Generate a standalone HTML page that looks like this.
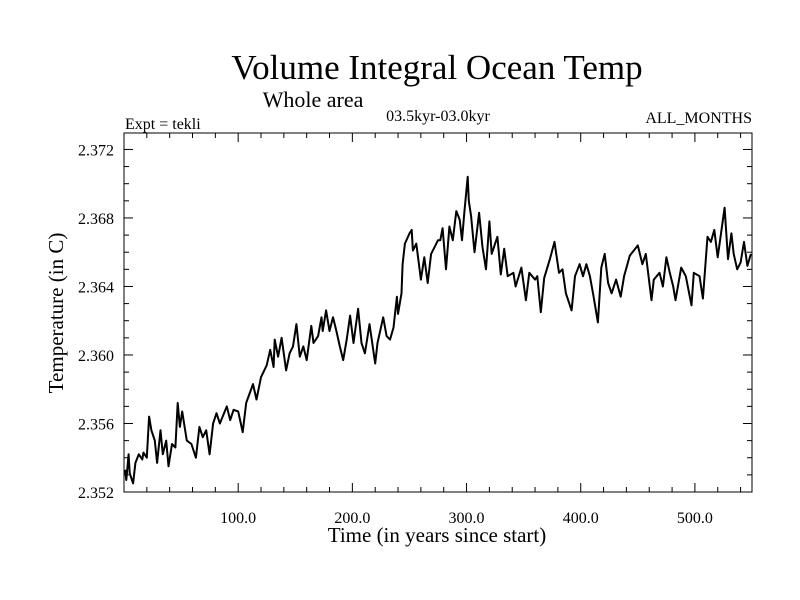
<!DOCTYPE html>
<html><head><meta charset="utf-8"><style>
body{margin:0;background:#fff;}
svg{display:block;font-family:"Liberation Serif",serif;}
</style></head><body>
<svg id="chart" width="800" height="600" viewBox="0 0 800 600" xmlns="http://www.w3.org/2000/svg">
<rect x="0" y="0" width="800" height="600" fill="#fff"/>
<text x="437" y="79" font-size="35" text-anchor="middle">Volume Integral Ocean Temp</text>
<text x="313" y="107" font-size="22" text-anchor="middle">Whole area</text>
<text x="438" y="121" font-size="16" text-anchor="middle">03.5kyr-03.0kyr</text>
<text x="125" y="129" font-size="16">Expt = tekli</text>
<text x="752" y="123" font-size="16" text-anchor="end">ALL_MONTHS</text>
<text x="437" y="542" font-size="21" text-anchor="middle">Time (in years since start)</text>
<text transform="translate(63,313) rotate(-90)" font-size="21" text-anchor="middle">Temperature (in C)</text>
<g id="axes"></g>
<path id="series" fill="none" stroke="#000" stroke-width="2" stroke-linejoin="round"/>
<rect x="124" y="133" width="628" height="359" fill="none" stroke="#000" stroke-width="1"/>
</svg>
<script>
const years = [1,2,4,5,8,10,13,16,17,20,22,24,27,29,32,34,37,39,42,45,47,49,51,55,59,63,66,69,72,75,78,81,84,90,93,96,100,104,107,113,116,120,125,128,131,132,135,138,142,145,148,151,154,157,160,164,166,170,173,174,177,180,183,186,189,192,195,198,201,205,208,211,215,220,222,227,230,233,236,239,240,243,244,246,250,252,253,256,260,263,266,269,272,275,277,279,282,285,288,291,294,296,298,301,302,304,307,311,314,317,320,322,325,327,330,333,336,341,343,348,352,355,360,362,365,368,373,377,381,384,387,392,395,399,402,405,408,411,415,418,421,424,427,431,435,438,443,450,454,457,462,464,469,472,475,478,481,483,488,492,497,499,504,507,511,514,517,520,526,529,532,534,537,540,543,546,549];
const temps = [2.3533,2.3527,2.3542,2.3531,2.3525,2.3537,2.3542,2.3539,2.3543,2.3540,2.3564,2.3556,2.3550,2.3537,2.3556,2.3542,2.3550,2.3535,2.3548,2.3546,2.3572,2.3558,2.3567,2.3550,2.3548,2.3540,2.3558,2.3552,2.3556,2.3542,2.3560,2.3566,2.3560,2.3570,2.3562,2.3568,2.3567,2.3555,2.3572,2.3583,2.3574,2.3587,2.3594,2.3603,2.3593,2.3609,2.3599,2.3610,2.3591,2.3601,2.3605,2.3618,2.3599,2.3605,2.3597,2.3617,2.3607,2.3611,2.3622,2.3614,2.3626,2.3614,2.3622,2.3614,2.3605,2.3597,2.3609,2.3623,2.3607,2.3627,2.3607,2.3601,2.3618,2.3595,2.3607,2.3622,2.3611,2.3609,2.3616,2.3634,2.3624,2.3636,2.3653,2.3665,2.3671,2.3673,2.3661,2.3665,2.3644,2.3657,2.3642,2.3659,2.3663,2.3667,2.3667,2.3674,2.3650,2.3675,2.3667,2.3684,2.3679,2.3667,2.3683,2.3704,2.3690,2.3681,2.3660,2.3683,2.3663,2.3650,2.3678,2.3659,2.3665,2.3669,2.3647,2.3662,2.3646,2.3648,2.3640,2.3651,2.3632,2.3648,2.3644,2.3646,2.3625,2.3645,2.3656,2.3666,2.3648,2.3650,2.3636,2.3626,2.3646,2.3653,2.3646,2.3653,2.3646,2.3635,2.3619,2.3651,2.3659,2.3642,2.3636,2.3644,2.3634,2.3646,2.3658,2.3664,2.3653,2.3659,2.3632,2.3644,2.3648,2.3640,2.3657,2.3648,2.3640,2.3632,2.3651,2.3646,2.3629,2.3648,2.3646,2.3633,2.3669,2.3666,2.3673,2.3657,2.3686,2.3656,2.3671,2.3659,2.3650,2.3654,2.3666,2.3652,2.3659];
const xTickLabels = ["100.0","200.0","300.0","400.0","500.0"];
const xTickValues = [100,200,300,400,500];
const yTickLabels = ["2.352","2.356","2.360","2.364","2.368","2.372"];
const yTickValues = [2.352,2.356,2.360,2.364,2.368,2.372];

const X0=124,X1=752,Y0=492,Y1=133,XMIN=0,XMAX=550,YMIN=2.352,YMAX=2.37296;
function sx(v){return X0+(v-XMIN)/(XMAX-XMIN)*(X1-X0);}
function sy(v){return Y0-(v-YMIN)/(YMAX-YMIN)*(Y0-Y1);}
const NS="http://www.w3.org/2000/svg";
const axes=document.getElementById('axes');
function line(x1,y1,x2,y2,name){
  const l=document.createElementNS(NS,'line');
  l.setAttribute('x1',x1);l.setAttribute('y1',y1);l.setAttribute('x2',x2);l.setAttribute('y2',y2);
  l.setAttribute('stroke','#000');l.setAttribute('stroke-width','1');
  
  
  axes.appendChild(l);
}
function text(x,y,s,anchor,name){
  const t=document.createElementNS(NS,'text');
  t.setAttribute('x',x);t.setAttribute('y',y);t.setAttribute('font-size','16');t.setAttribute('text-anchor',anchor);
  t.textContent=s;
  
  
  axes.appendChild(t);
}
// minor x ticks every 20 years
for(let v=20;v<XMAX;v+=20){const x=sx(v);const major=(v%100===0);const L=major?9:5;
  line(x,Y0,x,Y0-L,'x-tick');line(x,Y1,x,Y1+L,'x-tick-top');}
for(let v=2353;v<=2372;v++){const y=sy(v/1000);const major=(v%4===0);const L=major?9:5;
  line(X0,y,X0+L,y,'y-tick');line(X1,y,X1-L,y,'y-tick-right');}
xTickValues.forEach((v,i)=>text(sx(v),523,xTickLabels[i],'middle','x-tick-label'));
yTickValues.forEach((v,i)=>text(114,sy(v)+6,yTickLabels[i],'end','y-tick-label'));
let d='';
years.forEach((yr,i)=>{d+=(i?'L':'M')+sx(yr).toFixed(1)+' '+sy(temps[i]).toFixed(1);});
document.getElementById('series').setAttribute('d',d);
</script>
</body></html>
